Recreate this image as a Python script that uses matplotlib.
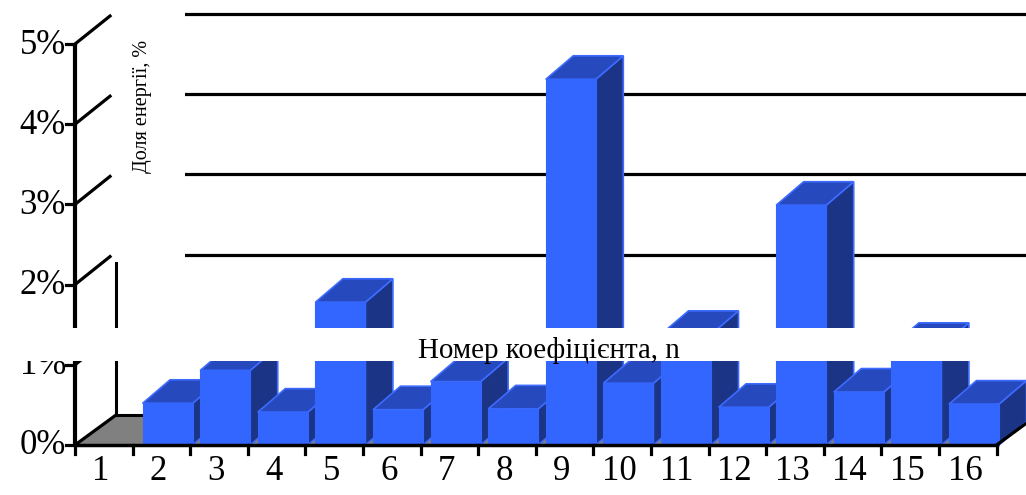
import matplotlib
matplotlib.use("Agg")
import matplotlib.pyplot as plt
from matplotlib.patches import Polygon, Rectangle

# ---- data ----
categories = ["1", "2", "3", "4", "5", "6", "7", "8", "9", "10", "11", "12", "13", "14", "15", "16"]
values = [0.0, 0.52, 0.93, 0.41, 1.78, 0.44, 0.79, 0.45, 4.56, 0.77, 1.38, 0.47, 2.99, 0.66, 1.23, 0.51]
y_ticks = [0, 1, 2, 3, 4, 5]
y_tick_labels = ["0%", "1%", "2%", "3%", "4%", "5%"]
x_title = "Номер коефіцієнта, n"
y_title = "Доля енергії, %"

# ---- figure / scales ----
W, H = 1026, 495
fig = plt.figure(figsize=(W / 100, H / 100), dpi=100)
ax = fig.add_axes([0, 0, 1, 1])
ax.axis("off")

PX = 57.6   # pixels per category
PY = 80.2   # pixels per 1 %
x0px, y0px = 75, 445   # front-left corner of the plot in pixels
ax.set_xlim(0.5 - x0px / PX, 0.5 + (W - x0px) / PX)
ax.set_ylim(-(H - y0px) / PY, y0px / PY)

def dx(px):
    return px / PX

def dy(px):
    return px / PY

n = len(categories)
xs = list(range(1, n + 1))
left, right = 0.5, n + 0.5
fdx, fdy = dx(41), dy(30)        # floor depth
serif = ["Liberation Serif", "DejaVu Serif"]

# ---- floor ----
ax.add_patch(Polygon([(left, 0), (right, 0), (right + fdx, fdy), (left + fdx, fdy)],
                     closed=True, facecolor="#808080", edgecolor="none", zorder=1))
ax.plot([left + fdx, right + fdx], [fdy, fdy], color="black", lw=2.2, zorder=1.5)

# ---- back wall gridlines & left wall edge ----
xmax = ax.get_xlim()[1]
for t in y_ticks[1:]:
    ax.plot([left + fdx, xmax], [t + fdy, t + fdy], color="black", lw=2.3, zorder=1.5)
ax.plot([left + fdx, left + fdx], [fdy, y_ticks[-1] + fdy], color="black", lw=2.2, zorder=1.5)

# white background box of the y-axis title (hides part of the wall)
ax.add_patch(Rectangle((left + dx(37), dy(183)), dx(73), ax.get_ylim()[1] - dy(183),
                       facecolor="white", edgecolor="none", zorder=2))
ax.text(left + dx(68), dy(445 - 106), y_title, rotation=90, ha="center", va="center",
        fontsize=14.5, family=serif, zorder=3)

# ---- bars ----
bl, bw = dx(10) - 0.5, dx(50)
bdx, bdy = dx(27.5), dy(23.5)
c_front, c_top, c_side, c_edge = "#3366FF", "#2649BE", "#1B3485", "#3D6BFF"
for i, (c, v) in enumerate(zip(xs, values)):
    if v <= 0:
        continue
    xl = c + bl
    xr = xl + bw
    z = 5 + i * 0.1
    ax.add_patch(Polygon([(xr, 0), (xr + bdx, bdy), (xr + bdx, v + bdy), (xr, v)], closed=True,
                         facecolor=c_side, edgecolor=c_edge, lw=1.2, joinstyle="miter", zorder=z))
    ax.add_patch(Polygon([(xl, v), (xr, v), (xr + bdx, v + bdy), (xl + bdx, v + bdy)], closed=True,
                         facecolor=c_top, edgecolor=c_edge, lw=1.2, joinstyle="miter", zorder=z))
    ax.add_patch(Polygon([(xl, 0), (xr, 0), (xr, v), (xl, v)], closed=True,
                         facecolor=c_front, edgecolor=c_front, lw=0.8, zorder=z + 0.01))

# ---- front axes ----
ax.plot([left, left], [0, y_ticks[-1]], color="black", lw=3.0, zorder=20, solid_capstyle="butt")
ax.plot([left, right], [0, 0], color="black", lw=2.5, zorder=20)
ax.plot([left, left + fdx], [0, fdy], color="black", lw=2.3, zorder=20)
ax.plot([right, right + fdx], [0, fdy], color="black", lw=2.3, zorder=20)
for t, lab in zip(y_ticks, y_tick_labels):
    ax.plot([left - dx(9), left], [t, t], color="black", lw=2.3, zorder=20)
    if t > 0:
        ax.plot([left, left + dx(35)], [t, t + dy(28)], color="black", lw=2.3, zorder=20)
    ax.text(left - dx(9), t - dy(1), lab, ha="right", va="center", fontsize=25, family=serif, zorder=25)
for k in range(n + 1):
    ax.plot([left + k, left + k], [0, -dy(9)], color="black", lw=2.3, zorder=20)
for c, lab in zip(xs, categories):
    ax.text(c - 0.05, -dy(26), lab, ha="center", va="center", fontsize=25, family=serif, zorder=25)

# ---- x-axis title band ----
band_lo, band_hi = dy(445 - 361), dy(445 - 328)
band = Rectangle((ax.get_xlim()[0], band_lo), xmax - ax.get_xlim()[0], band_hi - band_lo,
                 facecolor="white", edgecolor="none", zorder=30)
ax.add_patch(band)
t = ax.text(left + dx(474), dy(445 - 351), x_title, ha="center", va="center",
            fontsize=20.9, family=serif, zorder=31)
t.set_clip_path(band)

fig.savefig("out.png", dpi=100)
